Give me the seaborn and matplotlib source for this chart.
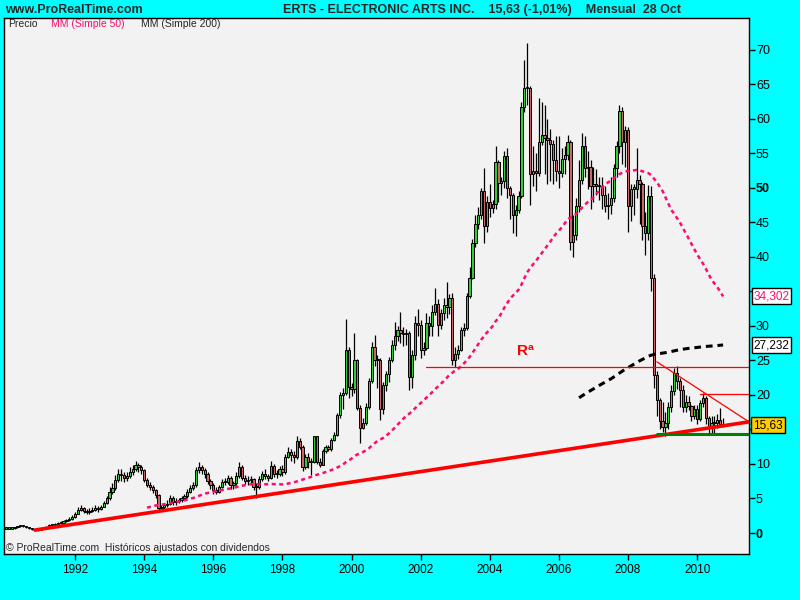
import numpy as np
import pandas as pd
import matplotlib
matplotlib.use("Agg")
import matplotlib.pyplot as plt
import matplotlib.transforms as mtransforms
import seaborn as sns

# monthly closes, Jan 1990 .. Oct 2010 (one row per year)
close = [
    0.65, 0.65, 0.7, 0.8, 0.95, 1.0, 0.95, 0.8, 0.7, 0.6, 0.45, 0.5,        # 1990
    0.6, 0.7, 0.9, 1.1, 1.2, 1.3, 1.4, 1.5, 1.7, 1.9, 2.0, 2.3,             # 1991
    2.8, 3.4, 3.6, 3.2, 3.0, 3.2, 3.4, 3.6, 3.5, 3.8, 4.3, 5.0,             # 1992
    6.0, 6.5, 7.7, 8.6, 8.4, 8.0, 8.2, 8.9, 9.3, 9.9, 9.6, 9.1,             # 1993
    7.7, 7.0, 6.6, 6.2, 5.5, 3.6, 3.7, 4.0, 4.2, 5.0, 4.5, 4.6,             # 1994
    4.8, 5.0, 5.3, 6.0, 6.5, 6.9, 9.1, 9.6, 9.1, 8.6, 7.5, 6.9,             # 1995
    6.2, 6.0, 6.7, 7.4, 7.4, 7.9, 6.9, 7.2, 8.2, 9.6, 8.0, 7.5,             # 1996
    7.7, 7.8, 6.6, 6.6, 7.8, 8.5, 8.3, 8.0, 9.7, 8.5, 8.5, 9.2,             # 1997
    8.9, 11.0, 11.7, 11.3, 11.0, 13.4, 12.5, 9.6, 11.0, 10.3, 10.3, 14.0,   # 1998
    10.3, 9.9, 11.9, 12.5, 12.2, 13.5, 14.2, 17.1, 20.0, 20.3, 26.5, 21.2,  # 1999
    20.8, 25.0, 18.1, 15.2, 16.0, 18.3, 22.0, 27.0, 25.0, 25.0, 18.0, 21.5, # 2000
    23.0, 25.0, 27.3, 28.5, 29.4, 29.0, 28.8, 29.0, 22.6, 25.8, 30.4, 30.2, # 2001
    26.5, 26.8, 30.4, 30.0, 32.0, 33.2, 30.2, 31.8, 33.0, 32.8, 34.0, 25.0, # 2002
    26.0, 26.5, 29.4, 29.7, 34.4, 37.0, 42.0, 44.8, 46.0, 49.5, 44.4, 48.0, # 2003
    47.1, 47.6, 53.8, 50.7, 51.0, 54.6, 50.0, 49.0, 46.1, 46.8, 48.8, 61.7, # 2004
    64.4, 64.4, 52.0, 52.5, 52.2, 56.6, 57.7, 57.2, 56.9, 56.4, 54.0, 52.4, # 2005
    52.2, 54.2, 54.8, 56.7, 42.2, 43.2, 47.3, 51.2, 56.0, 52.8, 53.0, 50.2, # 2006
    50.6, 50.3, 50.2, 49.0, 47.3, 47.5, 48.5, 52.8, 56.0, 61.1, 56.6, 58.4, # 2007
    47.3, 49.9, 49.9, 51.2, 50.5, 44.4, 43.4, 48.8, 36.9, 22.9, 19.3, 16.2, # 2008
    15.4, 15.9, 18.3, 20.5, 23.2, 22.0, 20.7, 18.3, 19.0, 18.4, 16.9, 17.9, # 2009
    16.5, 18.8, 19.5, 16.6, 15.2, 15.9, 16.0, 16.3, 15.8, 15.63,            # 2010
]
high = [
    0.75, 0.75, 0.8, 0.9, 1.05, 1.1, 1.05, 0.95, 0.8, 0.7, 0.65, 0.6,
    0.7, 0.85, 1.0, 1.25, 1.35, 1.45, 1.55, 1.7, 1.9, 2.1, 2.3, 2.6,
    3.0, 3.7, 4.1, 3.8, 3.5, 3.6, 3.8, 4.0, 3.9, 4.1, 4.6, 5.4,
    6.6, 7.2, 8.4, 9.3, 9.2, 8.8, 8.9, 9.5, 9.9, 10.4, 10.2, 9.8,
    9.3, 8.0, 7.4, 6.9, 6.4, 5.7, 4.1, 4.4, 4.8, 5.5, 5.3, 5.0,
    5.1, 5.4, 5.7, 6.4, 7.0, 7.4, 9.6, 10.3, 9.9, 9.4, 8.8, 7.8,
    7.2, 6.6, 7.0, 7.8, 7.9, 8.4, 8.2, 7.6, 8.8, 10.3, 9.9, 8.4,
    8.3, 8.2, 8.0, 7.2, 8.3, 9.0, 9.2, 8.6, 10.4, 10.0, 9.1, 9.7,
    9.8, 11.4, 12.4, 12.2, 11.9, 14.0, 13.7, 12.7, 11.4, 11.6, 10.9, 14.1,
    14.1, 10.9, 12.2, 12.8, 12.8, 13.8, 14.6, 17.4, 20.4, 21.0, 31.0, 27.0,
    21.8, 29.0, 25.2, 18.5, 16.6, 18.8, 22.4, 27.6, 28.7, 25.8, 25.3, 21.9,
    23.5, 25.5, 28.0, 30.5, 30.0, 32.0, 29.8, 29.6, 29.2, 26.5, 31.5, 32.5,
    30.8, 27.6, 31.8, 31.4, 33.0, 35.5, 33.9, 32.4, 34.0, 36.3, 34.6, 34.8,
    27.0, 27.2, 29.9, 30.4, 34.8, 38.5, 42.6, 46.0, 47.2, 50.0, 52.8, 48.8,
    50.5, 48.3, 56.0, 54.0, 51.6, 55.3, 55.8, 50.3, 49.2, 47.5, 49.5, 62.5,
    68.5, 71.0, 64.8, 56.0, 55.0, 63.0, 62.5, 62.0, 60.0, 58.5, 57.0, 57.5,
    57.5, 55.8, 56.0, 57.6, 57.0, 46.0, 48.5, 54.0, 58.0, 57.5, 55.4, 54.0,
    53.0, 52.7, 51.5, 51.5, 50.2, 49.3, 51.5, 53.5, 56.8, 62.0, 61.7, 59.0,
    58.8, 50.5, 50.5, 55.8, 51.8, 50.8, 46.5, 50.4, 50.2, 37.5, 23.5, 19.5,
    19.0, 17.5, 19.0, 21.5, 23.9, 24.2, 22.5, 21.5, 20.0, 19.8, 18.6, 18.5,
    18.5, 19.3, 20.3, 19.9, 17.0, 16.9, 17.0, 17.2, 18.1, 16.6,
]
low = [
    0.55, 0.55, 0.6, 0.65, 0.75, 0.9, 0.85, 0.75, 0.6, 0.5, 0.35, 0.35,
    0.4, 0.55, 0.65, 0.85, 1.0, 1.1, 1.2, 1.3, 1.4, 1.6, 1.7, 1.9,
    2.2, 2.7, 3.2, 2.9, 2.7, 2.8, 3.0, 3.2, 3.1, 3.3, 3.7, 4.2,
    4.8, 5.6, 6.3, 7.4, 7.6, 7.4, 7.5, 7.9, 8.4, 9.0, 8.9, 8.6,
    7.4, 6.6, 6.2, 5.8, 5.1, 3.2, 3.2, 3.5, 3.8, 4.0, 4.1, 4.1,
    4.3, 4.5, 4.8, 5.1, 5.8, 6.2, 6.7, 8.7, 8.5, 8.0, 7.1, 6.4,
    5.7, 5.6, 5.8, 6.5, 6.9, 7.1, 6.4, 6.4, 7.0, 8.0, 7.7, 7.1,
    7.0, 7.2, 6.3, 5.0, 6.4, 7.6, 7.8, 7.5, 7.8, 8.1, 7.9, 8.2,
    8.3, 8.6, 10.8, 10.5, 10.2, 10.7, 12.1, 9.0, 9.2, 9.4, 8.4, 10.1,
    10.0, 9.6, 9.8, 11.6, 11.9, 11.9, 13.3, 14.1, 16.7, 18.0, 20.0, 19.5,
    19.8, 20.3, 17.8, 13.0, 15.0, 15.7, 18.0, 21.7, 24.2, 21.0, 16.4, 17.3,
    20.5, 21.9, 24.7, 26.5, 27.8, 27.5, 27.1, 27.3, 20.7, 21.0, 25.0, 28.5,
    25.3, 25.8, 26.5, 28.6, 28.6, 31.6, 28.6, 29.5, 30.8, 31.2, 31.7, 24.3,
    24.0, 25.2, 26.3, 28.5, 29.4, 34.0, 36.8, 41.5, 44.0, 45.5, 42.0, 43.6,
    45.8, 46.4, 46.9, 48.0, 49.0, 50.0, 48.5, 45.5, 43.4, 43.0, 46.3, 48.5,
    61.0, 62.0, 47.5, 50.2, 49.5, 51.7, 56.2, 52.0, 50.5, 51.0, 50.5, 51.0,
    50.0, 51.5, 52.0, 54.0, 41.0, 40.0, 42.5, 46.5, 50.5, 51.5, 49.8, 47.0,
    48.0, 49.0, 48.3, 47.0, 46.5, 45.5, 46.2, 48.0, 51.5, 55.0, 53.5, 53.0,
    43.6, 45.2, 46.0, 48.5, 44.8, 42.4, 40.2, 42.5, 35.0, 21.0, 17.0, 15.0,
    14.7, 14.0, 15.0, 17.6, 20.0, 20.8, 18.2, 17.6, 17.5, 17.8, 16.2, 16.5,
    15.8, 16.2, 18.3, 15.8, 14.4, 14.3, 14.5, 15.2, 15.3, 15.3,
]

year_ticks = list(range(1992, 2011, 2))
price_ticks = list(range(0, 75, 5))
hidden_ticks = (15, 35)   # covered by the value boxes in the original

# annotation levels drawn by hand on the original chart (month index, price)
support_line = ([10.1, 258.0], [0.43, 16.1])
resist_24 = ([146.0, 258.0], [24.06, 24.06])
falling_line = ([226.0, 258.0], [24.8, 16.1])
resist_20 = ([241.0, 258.0], [20.2, 20.2])
floor_line = ([226.0, 258.0], [14.35, 14.35])

df = pd.DataFrame({"close": close, "high": high, "low": low})
df["m"] = np.arange(len(df))
df["open"] = df["close"].shift(1).fillna(close[0])
df["high"] = df[["high", "open", "close"]].max(axis=1)
df["low"] = df[["low", "open", "close"]].min(axis=1)
df["ma50"] = df["close"].rolling(50).mean()
df["ma200"] = df["close"].rolling(200).mean()

sns.set_theme(style="white")
plt.rcParams["font.family"] = ["Liberation Sans", "DejaVu Sans"]

CYAN = "#00FFFF"
PINK = "#FF0A6E"
GREEN = "#33CC33"
ROSE = "#CC6666"

fig = plt.figure(figsize=(8, 6), dpi=100, facecolor=CYAN)
ax = fig.add_axes([4 / 800, 46 / 600, 745 / 800, 536 / 600])
ax.set_facecolor("#F2F2F2")

# candles
up = df["close"] >= df["open"]
ax.vlines(df["m"], df["low"], df["high"], color="black", lw=0.9, zorder=2)
body = (df["close"] - df["open"]).abs().clip(lower=0.15)
ax.bar(df["m"], body, bottom=df[["open", "close"]].min(axis=1), width=0.78,
       color=np.where(up, GREEN, ROSE), edgecolor="black", linewidth=0.7, zorder=3)

# moving averages
sns.lineplot(data=df, x="m", y="ma50", ax=ax, color=PINK, lw=1.8,
             linestyle=(0, (1.6, 1.4)), zorder=4)
sns.lineplot(data=df, x="m", y="ma200", ax=ax, color="black", lw=2.2,
             linestyle=(0, (2.2, 1.6)), zorder=4)

# trend lines
ax.plot(*support_line, color="#FF0000", lw=2.6, zorder=5)
ax.plot(*resist_24, color="#FF0000", lw=0.9, zorder=5)
ax.plot(*falling_line, color="#FF0000", lw=0.9, zorder=5)
ax.plot(*resist_20, color="#FF0000", lw=0.9, zorder=5)
ax.plot(*floor_line, color="#008000", lw=2.2, zorder=5)
ax.text(180.5, 26.4, "Rª", color="#FF0000", fontsize=11, fontweight="bold",
        ha="center", va="center")

ax.set_xlim(-0.66, 258.0)
ax.set_ylim(-3.04, 74.6)
ax.set_xlabel("")
ax.set_ylabel("")

ax.set_xticks([(y - 1990) * 12 for y in year_ticks])
ax.set_xticklabels([str(y) for y in year_ticks])
ax.yaxis.tick_right()
ax.set_yticks(price_ticks)
ax.set_yticklabels(["" if p in hidden_ticks else str(p) for p in price_ticks])
for t, p in zip(ax.get_yticklabels(), price_ticks):
    if p in (0, 50):
        t.set_fontweight("bold")
ax.tick_params(axis="both", direction="out", length=4, width=1, color="black",
               labelcolor="black")
ax.tick_params(axis="x", pad=3, bottom=True, labelsize=8.5)
ax.tick_params(axis="y", pad=1, right=True, left=False, labelsize=9)
for s in ax.spines.values():
    s.set_color("black")
    s.set_linewidth(1)

# last value boxes on the price axis
tr = mtransforms.blended_transform_factory(ax.transAxes, ax.transData)
ax.text(1.006, 34.302, "34,302", transform=tr, color=PINK, fontsize=8.5,
        va="center", ha="left", zorder=10,
        bbox=dict(boxstyle="square,pad=0.15", fc="white", ec="black", lw=1))
ax.text(1.006, 27.232, "27,232", transform=tr, color="black", fontsize=8.5,
        va="center", ha="left", zorder=10,
        bbox=dict(boxstyle="square,pad=0.15", fc="white", ec="black", lw=1))
ax.text(1.006, 15.63, "15,63", transform=tr, color="black", fontsize=8.5,
        va="center", ha="left", zorder=10,
        bbox=dict(boxstyle="square,pad=0.2", fc="#FFCC00", ec="black", lw=1))

# header and inner captions
fig.text(5 / 800, 1 - 10 / 600, "www.ProRealTime.com", fontsize=9,
         fontweight="bold", va="center", ha="left")
fig.text(283 / 800, 1 - 10 / 600,
         "ERTS - ELECTRONIC ARTS INC.    15,63 (-1,01%)    Mensual  28 Oct",
         fontsize=9, fontweight="bold", va="center", ha="left")
fig.text(8 / 800, 1 - 24 / 600, "Precio", fontsize=7.5, va="center")
fig.text(51 / 800, 1 - 24 / 600, "MM (Simple 50)", fontsize=7.5, va="center",
         color=PINK)
fig.text(141 / 800, 1 - 24 / 600, "MM (Simple 200)", fontsize=7.5, va="center")
fig.text(6 / 800, 1 - 548 / 600,
         "© ProRealTime.com  Históricos ajustados con dividendos",
         fontsize=7.5, va="center")

fig.savefig("out.png", dpi=100, facecolor=CYAN)
